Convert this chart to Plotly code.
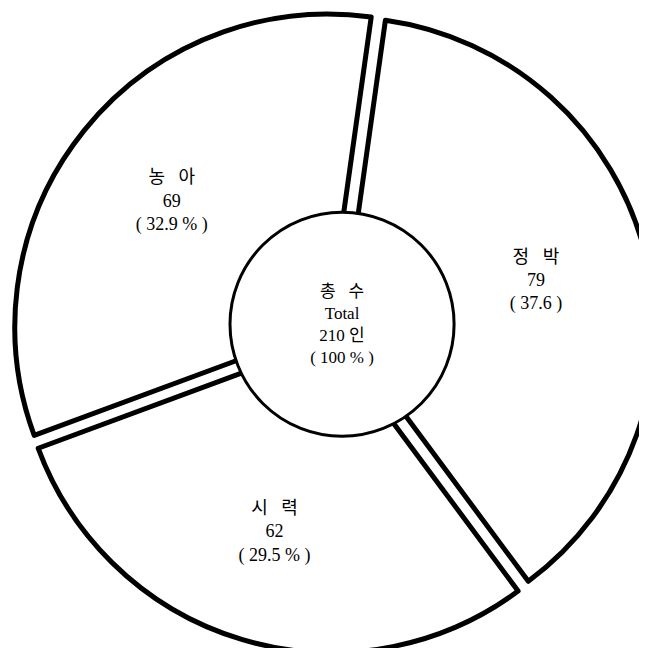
import plotly.graph_objects as go

# 장애 유형별 인원
labels = ["정   박", "시   력", "농   아"]
values = [79, 62, 69]
percent_text = ["( 37.6 )", "( 29.5 % )", "( 32.9 % )"]

total_label = "총   수"
total_value = 210
total_percent = "( 100 % )"

font_family = "Liberation Serif, Noto Sans CJK KR"

fig = go.Figure()

# outer ring, every slice pulled a little so the outlines separate
fig.add_trace(go.Pie(
    labels=labels,
    values=values,
    customdata=percent_text,
    texttemplate="%{label}<br>%{value}<br>%{customdata}",
    textposition="inside",
    insidetextorientation="horizontal",
    textfont=dict(family=font_family, size=18, color="black"),
    marker=dict(colors=["white"] * len(values), line=dict(color="black", width=5)),
    pull=[0.026] * len(values),
    hole=0.28,
    sort=False,
    direction="clockwise",
    rotation=8,
    hoverinfo="skip",
    showlegend=False,
    domain=dict(x=[0, 1], y=[0, 1]),
))

# inner circle holding the total
fig.add_trace(go.Pie(
    labels=["Total"],
    values=[total_value],
    texttemplate=total_label + "<br>Total<br>%{value} 인<br>" + total_percent,
    textposition="inside",
    insidetextorientation="horizontal",
    textfont=dict(family=font_family, size=17, color="black"),
    marker=dict(colors=["white"], line=dict(color="black", width=3)),
    sort=False,
    hoverinfo="skip",
    showlegend=False,
    domain=dict(x=[0.338, 0.687], y=[0.339, 0.685]),
))

fig.update_layout(
    width=647,
    height=648,
    margin=dict(l=5, r=0, t=0, b=0),
    paper_bgcolor="white",
    plot_bgcolor="white",
)

fig.write_html("out.html")
